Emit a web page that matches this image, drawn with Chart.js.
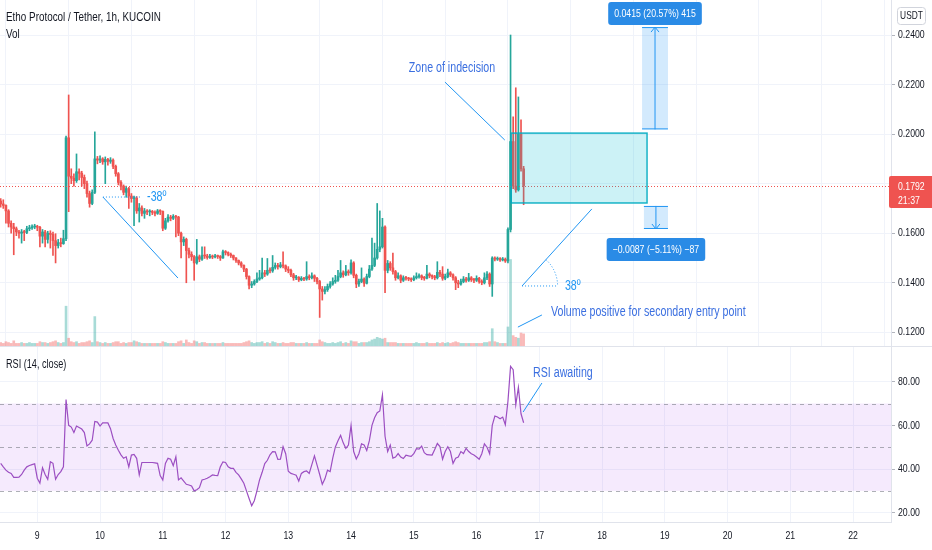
<!DOCTYPE html>
<html>
<head>
<meta charset="utf-8">
<title>ETHO / USDT 1h</title>
<script src="https://cdn.jsdelivr.net/npm/chart.js@4.4.1/dist/chart.umd.min.js"></script>
<style>
    html, body { margin: 0; padding: 0; background: #ffffff; }
    #wrap { position: relative; width: 932px; height: 550px; overflow: hidden; }
    #mainChart { position: absolute; left: 0; top: 0; }
    #rsiChart { position: absolute; left: 0; top: 346px; }
</style>
</head>
<body>
<div id="wrap">
    <canvas id="mainChart" width="932" height="346"></canvas>
    <canvas id="rsiChart" width="932" height="204"></canvas>
</div>
<script>
// 坐标轴刻度
const dayTicks = [9, 10, 11, 12, 13, 14, 15, 16, 17, 18, 19, 20, 21, 22];
const priceTicks = [0.12, 0.14, 0.16, 0.18, 0.20, 0.22, 0.24];
const rsiTicks = [20, 40, 60, 80];
const rsiLevels = [70, 50, 30];

// K线数据（每小时一根，从 8 日 10:00 开始）
const firstHour = 10;
const firstOpen = 0.1730;
const closes = [
    0.1718, 0.1712, 0.1690, 0.1640, 0.1625, 0.1618, 0.1605, 0.1600, 0.1605, 0.1603,
    0.1618, 0.1622, 0.1625, 0.1627, 0.1624, 0.1588, 0.1605, 0.1575, 0.1600, 0.1595,
    0.1570, 0.1550, 0.1562, 0.1558, 0.1578, 0.1985, 0.1830, 0.1822, 0.1812, 0.1848,
    0.1842, 0.1825, 0.1800, 0.1760, 0.1720, 0.1765, 0.1900, 0.1895, 0.1900, 0.1888,
    0.1898, 0.1890, 0.1895, 0.1870, 0.1840, 0.1805, 0.1790, 0.1765, 0.1780, 0.1750,
    0.1740, 0.1742, 0.1690, 0.1702, 0.1680, 0.1690, 0.1686, 0.1688, 0.1684, 0.1680,
    0.1690, 0.1688, 0.1620, 0.1650, 0.1665, 0.1660, 0.1668, 0.1665, 0.1600, 0.1565,
    0.1575, 0.1530, 0.1515, 0.1505, 0.1480, 0.1505, 0.1495, 0.1510, 0.1508, 0.1502,
    0.1507, 0.1504, 0.1508, 0.1506, 0.1500, 0.1525, 0.1522, 0.1515, 0.1510, 0.1500,
    0.1490, 0.1480, 0.1470, 0.1455, 0.1425, 0.1390, 0.1395, 0.1405, 0.1415, 0.1420,
    0.1440, 0.1435, 0.1450, 0.1448, 0.1462, 0.1470, 0.1465, 0.1472, 0.1468, 0.1455,
    0.1450, 0.1432, 0.1420, 0.1422, 0.1412, 0.1418, 0.1415, 0.1425, 0.1420, 0.1428,
    0.1418, 0.1405, 0.1375, 0.1365, 0.1372, 0.1385, 0.1395, 0.1405, 0.1410, 0.1425,
    0.1440, 0.1432, 0.1445, 0.1440, 0.1480, 0.1430, 0.1395, 0.1405, 0.1415, 0.1398,
    0.1425, 0.1455, 0.1470, 0.1500, 0.1535, 0.1545, 0.1625, 0.1450, 0.1478, 0.1460,
    0.1445, 0.1420, 0.1428, 0.1410, 0.1420, 0.1418, 0.1415, 0.1412, 0.1420, 0.1425,
    0.1428, 0.1420, 0.1418, 0.1435, 0.1428, 0.1425, 0.1420, 0.1442, 0.1435, 0.1418,
    0.1425, 0.1440, 0.1432, 0.1420, 0.1400, 0.1395, 0.1405, 0.1415, 0.1410, 0.1420,
    0.1412, 0.1410, 0.1418, 0.1405, 0.1400, 0.1420, 0.1435, 0.1395, 0.1500, 0.1495,
    0.1498, 0.1492, 0.1495, 0.1488, 0.1615, 0.1970, 0.1790, 0.1775, 0.2000, 0.1860, 0.1792
];
const highs = [
    0.1740, 0.1735, 0.1715, 0.1695, 0.1650, 0.1640, 0.1625, 0.1612, 0.1615, 0.1612,
    0.1628, 0.1632, 0.1634, 0.1636, 0.1632, 0.1628, 0.1615, 0.1612, 0.1608, 0.1610,
    0.1605, 0.1598, 0.1575, 0.1580, 0.1612, 0.1992, 0.2158, 0.1860, 0.1840, 0.1920,
    0.1860, 0.1850, 0.1835, 0.1810, 0.1770, 0.1775, 0.2009, 0.1910, 0.1912, 0.1905,
    0.1908, 0.1902, 0.1905, 0.1900, 0.1875, 0.1845, 0.1812, 0.1795, 0.1790, 0.1785,
    0.1760, 0.1750, 0.1748, 0.1720, 0.1710, 0.1700, 0.1695, 0.1695, 0.1692, 0.1690,
    0.1696, 0.1695, 0.1690, 0.1660, 0.1675, 0.1672, 0.1675, 0.1672, 0.1668, 0.1605,
    0.1585, 0.1580, 0.1540, 0.1525, 0.1510, 0.1575, 0.1512, 0.1545, 0.1545, 0.1515,
    0.1515, 0.1512, 0.1515, 0.1512, 0.1510, 0.1532, 0.1530, 0.1525, 0.1520, 0.1512,
    0.1502, 0.1492, 0.1485, 0.1472, 0.1458, 0.1428, 0.1405, 0.1412, 0.1440, 0.1450,
    0.1500, 0.1450, 0.1498, 0.1460, 0.1510, 0.1480, 0.1478, 0.1482, 0.1525, 0.1472,
    0.1465, 0.1455, 0.1438, 0.1430, 0.1425, 0.1425, 0.1422, 0.1485, 0.1432, 0.1440,
    0.1432, 0.1422, 0.1410, 0.1385, 0.1385, 0.1395, 0.1405, 0.1420, 0.1430, 0.1450,
    0.1490, 0.1448, 0.1470, 0.1452, 0.1493, 0.1485, 0.1435, 0.1415, 0.1460, 0.1420,
    0.1435, 0.1470, 0.1580, 0.1560, 0.1720, 0.1690, 0.1660, 0.1630, 0.1490, 0.1485,
    0.1520, 0.1450, 0.1440, 0.1432, 0.1428, 0.1426, 0.1422, 0.1420, 0.1428, 0.1440,
    0.1436, 0.1432, 0.1426, 0.1470, 0.1440, 0.1432, 0.1430, 0.1485, 0.1450, 0.1465,
    0.1435, 0.1455, 0.1445, 0.1436, 0.1425, 0.1410, 0.1415, 0.1425, 0.1422, 0.1438,
    0.1425, 0.1418, 0.1428, 0.1422, 0.1412, 0.1440, 0.1445, 0.1440, 0.1505, 0.1505,
    0.1504, 0.1502, 0.1502, 0.1500, 0.1622, 0.2400, 0.2070, 0.2187, 0.2150, 0.2058, 0.1870
];
const lows = [
    0.1705, 0.1700, 0.1640, 0.1625, 0.1600, 0.1513, 0.1590, 0.1580, 0.1560, 0.1570,
    0.1598, 0.1610, 0.1615, 0.1618, 0.1610, 0.1545, 0.1560, 0.1545, 0.1560, 0.1540,
    0.1510, 0.1480, 0.1540, 0.1545, 0.1555, 0.1570, 0.1687, 0.1800, 0.1790, 0.1805,
    0.1815, 0.1790, 0.1780, 0.1745, 0.1705, 0.1715, 0.1760, 0.1880, 0.1885, 0.1878,
    0.1800, 0.1875, 0.1882, 0.1860, 0.1830, 0.1795, 0.1775, 0.1755, 0.1745, 0.1700,
    0.1725, 0.1630, 0.1680, 0.1645, 0.1670, 0.1660, 0.1675, 0.1670, 0.1675, 0.1670,
    0.1676, 0.1675, 0.1610, 0.1615, 0.1645, 0.1650, 0.1655, 0.1585, 0.1590, 0.1500,
    0.1550, 0.1400, 0.1500, 0.1490, 0.1410, 0.1475, 0.1485, 0.1490, 0.1498, 0.1495,
    0.1498, 0.1497, 0.1500, 0.1498, 0.1490, 0.1498, 0.1512, 0.1508, 0.1502, 0.1492,
    0.1482, 0.1472, 0.1462, 0.1445, 0.1415, 0.1375, 0.1380, 0.1390, 0.1400, 0.1410,
    0.1415, 0.1425, 0.1430, 0.1440, 0.1442, 0.1455, 0.1455, 0.1460, 0.1460, 0.1445,
    0.1440, 0.1425, 0.1410, 0.1412, 0.1405, 0.1408, 0.1408, 0.1410, 0.1412, 0.1415,
    0.1405, 0.1395, 0.1260, 0.1330, 0.1355, 0.1365, 0.1378, 0.1390, 0.1398, 0.1405,
    0.1420, 0.1422, 0.1428, 0.1430, 0.1435, 0.1420, 0.1380, 0.1385, 0.1400, 0.1385,
    0.1395, 0.1420, 0.1450, 0.1465, 0.1495, 0.1525, 0.1540, 0.1360, 0.1440, 0.1450,
    0.1435, 0.1410, 0.1415, 0.1400, 0.1405, 0.1410, 0.1408, 0.1405, 0.1408, 0.1415,
    0.1418, 0.1412, 0.1410, 0.1415, 0.1420, 0.1415, 0.1412, 0.1415, 0.1425, 0.1410,
    0.1412, 0.1420, 0.1425, 0.1410, 0.1372, 0.1380, 0.1390, 0.1400, 0.1402, 0.1405,
    0.1405, 0.1400, 0.1405, 0.1398, 0.1392, 0.1395, 0.1412, 0.1385, 0.1345, 0.1488,
    0.1490, 0.1486, 0.1488, 0.1482, 0.1480, 0.1605, 0.1780, 0.1765, 0.1770, 0.1850, 0.1715
];
const volumes = [
    4, 3, 5, 4, 3, 6, 3, 3, 4, 3,
    3, 4, 3, 3, 3, 5, 4, 4, 3, 4,
    5, 6, 4, 3, 4, 46, 9, 5, 4, 5,
    3, 4, 4, 5, 6, 4, 34, 5, 4, 3,
    4, 3, 3, 4, 5, 5, 3, 4, 3, 4,
    4, 6, 5, 4, 3, 3, 3, 3, 3, 3,
    3, 3, 5, 4, 3, 3, 3, 3, 5, 6,
    3, 7, 4, 3, 6, 5, 3, 4, 4, 3,
    3, 3, 3, 3, 3, 4, 3, 3, 3, 3,
    3, 3, 3, 4, 5, 6, 4, 3, 4, 4,
    5, 3, 4, 3, 5, 4, 3, 3, 4, 3,
    3, 4, 4, 3, 3, 3, 3, 4, 3, 3,
    3, 3, 7, 5, 4, 3, 3, 4, 3, 4,
    5, 3, 4, 3, 6, 5, 5, 3, 4, 4,
    4, 5, 7, 8, 10, 9, 8, 9, 4, 4,
    4, 4, 3, 3, 3, 3, 3, 3, 3, 4,
    3, 3, 3, 4, 3, 3, 3, 4, 3, 4,
    3, 4, 3, 4, 5, 4, 3, 3, 3, 3,
    3, 3, 3, 3, 3, 4, 4, 5, 20, 5,
    4, 3, 3, 3, 22, 100, 12, 10, 9, 15, 14
];
const rsiValues = [
    42.6, 41, 39.5, 38.5, 38, 36.2, 36.2, 36.3, 37.5, 39.5,
    41, 41.6, 42, 42.4, 35.8, 33.5, 40.6, 37.5, 35.3, 43.3,
    42.6, 35.3, 37.5, 38.8, 41, 71.8, 60, 59.2, 56.7, 59.7,
    59, 58.3, 56.7, 50.6, 51.5, 53.2, 61.8, 61.5, 59.7, 61.1,
    61.1, 61.1, 58.5, 54, 51, 48.6, 46.5, 44.9, 45.6, 41,
    46.4, 46.7, 44.9, 37.3, 43, 43, 43, 43, 43, 42.8,
    42.6, 37, 35, 42.6, 44.9, 44.5, 41.5, 45.6, 35, 36,
    34.5, 33, 32.7, 32.2, 30, 30.5, 31.5, 35, 35.3, 35.8,
    36.5, 37.3, 37.1, 37, 41, 43.3, 43, 41, 40.3, 40.3,
    38.5, 37.3, 35.5, 33.5, 30, 26.5, 23.2, 25.5, 30, 35,
    38.5, 42.5, 44, 46.5, 48, 47.9, 44.4, 44.5, 50.2, 47,
    39, 38, 37.6, 37.2, 34.5, 38, 38.8, 39.1, 38, 42,
    46, 41.8, 37.5, 33, 35.5, 39.5, 38.8, 45, 50.1, 53,
    55.4, 52, 49.5, 51, 60, 48, 44.6, 47, 51.5, 51,
    48.5, 53, 60, 63.5, 65.8, 66.6, 74, 55, 48, 51,
    45, 45.5, 47.1, 45.5, 44.8, 46.3, 46, 45.8, 47, 49.3,
    49.1, 50.5, 47.5, 46.6, 46.5, 46.4, 49, 51.7, 50.3, 44.5,
    48, 50.2, 48, 42.6, 45, 45.5, 48, 47.1, 49.5, 48,
    47, 46.4, 45.5, 44.5, 47, 51.5, 50, 47, 60, 64.3,
    63.8, 63, 63.8, 60.3, 71, 87, 85.5, 69.4, 77.4, 65.3, 61.2
];
const lastPrice = 0.1792;
const countdown = '21:37';

// 图上标注（数据坐标：小时, 价格 / RSI）
const slopeDown = { from: [49.1, 0.1746], to: [77.8, 0.1419], guideTo: 63.3, text: '-38º', textAt: [66.0, 0.1746] };
const zoneNote = { text: 'Zone of indecision', at: [182.6, 0.2267], from: [179.9, 0.2210], to: [202.8, 0.1976] };
const zoneBox = { x0: 205.2, x1: 257.2, top: 0.2004, bottom: 0.1722 };
const measureUp = { x0: 255.3, x1: 265.2, from: 0.2019, to: 0.2432, text: '0.0415 (20.57%) 415' };
const measureDown = { x0: 256.0, x1: 265.2, from: 0.1710, to: 0.1617, text: '\u22120.0087 (\u22125.11%) \u221287' };
const slopeUp = { from: [209.4, 0.1387], to: [236.1, 0.1698], guideTo: 223.0, text: '38º', textAt: [225.8, 0.1387] };
const volNote = { text: 'Volume positive for secondary entry point', at: [220.5, 0.1282], from: [207.8, 0.1221], to: [217.0, 0.1270] };
const rsiNote = { text: 'RSI awaiting', at: [213.6, 84], from: [209.8, 66.1], to: [217.0, 79.4] };

// 显示范围与样式
const X_MIN = 9.74, X_MAX = 350.5;
const P_MIN = 0.11447, P_MAX = 0.25413;
const R_MIN = 15.74, R_MAX = 96.35;
const VOL_MAX = 400;
const UP = '#26a69a', DOWN = '#ef5350';
const BLUE = '#2196f3', NOTE = '#3b6fe0';
const TEXT_FONT = '"Liberation Sans", Arial, sans-serif';
const SQUEEZE = 0.76;
const GRID = '#f0f3fa', BORDER = '#e0e3eb', TEXT = '#131722';
const HIDDEN = 'rgba(0,0,0,0)';

const hours = closes.map((c, i) => firstHour + i);
const opens = closes.map((c, i) => i === 0 ? firstOpen : closes[i - 1]);
const isUp = closes.map((c, i) => c >= opens[i]);
const wickHigh = highs.map((h, i) => Math.max(h, opens[i], closes[i]));
const wickLow = lows.map((l, i) => Math.min(l, opens[i], closes[i]));

// 工具函数：压窄字体绘制文字
function drawText(ctx, text, x, y, size, color, align) {
    ctx.save();
    ctx.font = size + 'px ' + TEXT_FONT;
    ctx.fillStyle = color;
    ctx.textBaseline = 'middle';
    ctx.textAlign = align || 'left';
    ctx.translate(x, y);
    ctx.scale(SQUEEZE, 1);
    ctx.fillText(text, 0, 0);
    ctx.restore();
}

function textWidth(ctx, text, size) {
    ctx.save();
    ctx.font = size + 'px ' + TEXT_FONT;
    const w = ctx.measureText(text).width * SQUEEZE;
    ctx.restore();
    return w;
}

function drawLine(ctx, x1, y1, x2, y2, color, dash, width) {
    ctx.save();
    ctx.strokeStyle = color;
    ctx.lineWidth = width || 1;
    ctx.setLineDash(dash || []);
    ctx.beginPath();
    ctx.moveTo(x1, y1);
    ctx.lineTo(x2, y2);
    ctx.stroke();
    ctx.restore();
}

function drawBox(ctx, x, y, w, h, r, fill, stroke) {
    ctx.save();
    ctx.beginPath();
    ctx.roundRect(x, y, w, h, r);
    if (fill) { ctx.fillStyle = fill; ctx.fill(); }
    if (stroke) { ctx.strokeStyle = stroke; ctx.lineWidth = 1; ctx.stroke(); }
    ctx.restore();
}

// 右侧刻度文字（位置取自库的刻度）
function drawAxisLabels(ctx, scale, values, digits) {
    values.forEach(v => {
        drawText(ctx, v.toFixed(digits), scale.left + 7, scale.getPixelForValue(v), 11.5, TEXT);
    });
}

// 测量工具（阴影 + 箭头 + 标签）
function drawMeasure(ctx, px, py, m, labelAbove) {
    const xa = px(m.x0), xb = px(m.x1), xc = (xa + xb) / 2;
    const yFrom = py(m.from), yTo = py(m.to);
    const yTop = Math.min(yFrom, yTo), yBot = Math.max(yFrom, yTo);
    ctx.save();
    ctx.fillStyle = 'rgba(33,150,243,0.2)';
    ctx.fillRect(xa, yTop, xb - xa, yBot - yTop);
    ctx.restore();
    drawLine(ctx, xa, yTop + 0.5, xb, yTop + 0.5, BLUE);
    drawLine(ctx, xa, yBot - 0.5, xb, yBot - 0.5, BLUE);
    drawLine(ctx, xc, yFrom, xc, yTo, BLUE);
    const dir = yTo < yFrom ? 1 : -1;
    drawLine(ctx, xc - 4, yTo + dir * 5, xc, yTo, BLUE);
    drawLine(ctx, xc + 4, yTo + dir * 5, xc, yTo, BLUE);
    const size = 11.5;
    const w = textWidth(ctx, m.text, size) + 12, h = 23;
    const by = labelAbove ? Math.max(2, yTop - 2 - h) : yBot + 9;
    drawBox(ctx, xc - w / 2, by, w, h, 3, '#2a8be6');
    drawText(ctx, m.text, xc, by + h / 2, size, '#ffffff', 'center');
}

// 主图标注插件
const mainNotes = {
    id: 'mainNotes',
    afterDraw(chart) {
        const ctx = chart.ctx, area = chart.chartArea;
        const xs = chart.scales.x, ys = chart.scales.y;
        const px = h => xs.getPixelForValue(h);
        const py = p => ys.getPixelForValue(p);

        ctx.save();
        ctx.beginPath();
        ctx.rect(area.left, area.top, area.right - area.left, area.bottom - area.top);
        ctx.clip();

        // 当前价格虚线
        const yLast = Math.round(py(lastPrice)) + 0.5;
        drawLine(ctx, area.left, yLast, area.right, yLast, DOWN, [1, 2]);

        // 震荡区
        const zx = px(zoneBox.x0), zy = py(zoneBox.top);
        const zw = px(zoneBox.x1) - zx, zh = py(zoneBox.bottom) - zy;
        ctx.save();
        ctx.fillStyle = 'rgba(0,188,212,0.2)';
        ctx.fillRect(zx, zy, zw, zh);
        ctx.strokeStyle = 'rgba(0,172,193,0.9)';
        ctx.lineWidth = 1.5;
        ctx.strokeRect(zx, zy, zw, zh);
        ctx.restore();

        drawMeasure(ctx, px, py, measureUp, true);
        drawMeasure(ctx, px, py, measureDown, false);

        // 角度线
        [slopeDown, slopeUp].forEach(s => {
            const x1 = px(s.from[0]), y1 = py(s.from[1]);
            const x2 = px(s.to[0]), y2 = py(s.to[1]);
            drawLine(ctx, x1, y1, x2, y2, BLUE);
            drawLine(ctx, x1, y1, px(s.guideTo), y1, BLUE, [1, 2]);
            drawText(ctx, s.text, px(s.textAt[0]), py(s.textAt[1]), 14, BLUE);
        });
        // 38º 的角度弧
        const ax = px(slopeUp.from[0]), ay = py(slopeUp.from[1]);
        const ang = Math.atan2(py(slopeUp.to[1]) - ay, px(slopeUp.to[0]) - ax);
        ctx.save();
        ctx.strokeStyle = BLUE;
        ctx.setLineDash([1, 2]);
        ctx.beginPath();
        ctx.arc(ax, ay, px(slopeUp.guideTo) - ax, ang, 0);
        ctx.stroke();
        ctx.restore();

        // 文字标注
        [zoneNote, volNote].forEach(n => {
            drawLine(ctx, px(n.from[0]), py(n.from[1]), px(n.to[0]), py(n.to[1]), BLUE);
        });
        drawText(ctx, zoneNote.text, px(zoneNote.at[0]), py(zoneNote.at[1]), 14, NOTE, 'center');
        drawText(ctx, volNote.text, px(volNote.at[0]), py(volNote.at[1]), 14, NOTE);
        ctx.restore();

        // 标题
        drawText(ctx, 'Etho Protocol / Tether, 1h, KUCOIN', 6, 17, 13, TEXT);
        drawText(ctx, 'Vol', 6, 34, 13, TEXT);

        // 价格刻度
        drawAxisLabels(ctx, ys, priceTicks, 4);

        // USDT
        drawBox(ctx, 897.5, 7.5, 28, 17, 3, '#ffffff', '#d1d4dc');
        drawText(ctx, 'USDT', 911.5, 16, 11, TEXT, 'center');

        // 当前价格标签
        drawBox(ctx, 889, yLast - 10.5, 50, 32, 2, DOWN);
        drawText(ctx, lastPrice.toFixed(4), 898, yLast, 11.5, '#ffffff');
        drawText(ctx, countdown, 898, yLast + 14, 11.5, '#ffffff');
    }
};

new Chart(document.getElementById('mainChart'), {
    type: 'bar',
    data: {
        datasets: [
            {
                label: 'body',
                data: hours.map((h, i) => ({ x: h, y: [opens[i], closes[i]] })),
                backgroundColor: isUp.map(u => u ? UP : DOWN),
                barThickness: 2,
                minBarLength: 1,
                grouped: false,
                order: 1,
                yAxisID: 'y'
            },
            {
                label: 'wick',
                data: hours.map((h, i) => ({ x: h, y: [wickLow[i], wickHigh[i]] })),
                backgroundColor: isUp.map(u => u ? UP : DOWN),
                barThickness: 1,
                grouped: false,
                order: 2,
                yAxisID: 'y'
            },
            {
                label: 'vol',
                data: hours.map((h, i) => ({ x: h, y: volumes[i] })),
                backgroundColor: isUp.map(u => u ? 'rgba(38,166,154,0.4)' : 'rgba(239,83,80,0.4)'),
                barThickness: 2,
                grouped: false,
                order: 3,
                yAxisID: 'yVol'
            }
        ]
    },
    options: {
        responsive: false,
        animation: false,
        events: [],
        layout: { padding: 0 },
        plugins: { legend: { display: false }, tooltip: { enabled: false } },
        scales: {
            x: {
                type: 'linear',
                min: X_MIN,
                max: X_MAX,
                offset: false,
                afterBuildTicks: s => { s.ticks = dayTicks.map(d => ({ value: (d - 8) * 24 })); },
                ticks: { display: false },
                grid: { color: GRID, drawTicks: false },
                border: { display: false },
                afterFit: s => { s.height = 0; s.paddingLeft = 0; s.paddingRight = 0; }
            },
            y: {
                position: 'right',
                min: P_MIN,
                max: P_MAX,
                afterBuildTicks: s => { s.ticks = priceTicks.map(v => ({ value: v })); },
                ticks: { callback: v => Number(v).toFixed(4), color: HIDDEN, padding: 3, font: { size: 11 } },
                grid: { color: GRID, tickColor: '#b2b5be', tickLength: 4 },
                border: { color: BORDER },
                afterFit: s => { s.width = 41; s.paddingTop = 0; s.paddingBottom = 0; }
            },
            yVol: { display: false, min: 0, max: VOL_MAX }
        }
    },
    plugins: [mainNotes]
});

// RSI 区域插件
const rsiNotes = {
    id: 'rsiNotes',
    beforeDatasetsDraw(chart) {
        const ctx = chart.ctx, area = chart.chartArea, ys = chart.scales.y;
        const yHi = ys.getPixelForValue(rsiLevels[0]);
        const yLo = ys.getPixelForValue(rsiLevels[rsiLevels.length - 1]);
        ctx.save();
        ctx.fillStyle = 'rgba(170,80,235,0.12)';
        ctx.fillRect(area.left, yHi, area.right - area.left, yLo - yHi);
        ctx.restore();
        rsiLevels.forEach(v => {
            const y = Math.round(ys.getPixelForValue(v)) + 0.5;
            drawLine(ctx, area.left, y, area.right, y, 'rgba(120,123,134,0.6)', [4, 4]);
        });
    },
    afterDraw(chart) {
        const ctx = chart.ctx, xs = chart.scales.x, ys = chart.scales.y, area = chart.chartArea;
        const px = h => xs.getPixelForValue(h);
        const py = v => ys.getPixelForValue(v);
        drawLine(ctx, 0, 0.5, 932, 0.5, BORDER);
        drawText(ctx, 'RSI (14, close)', 6, 19, 12, TEXT);
        drawLine(ctx, px(rsiNote.from[0]), py(rsiNote.from[1]), px(rsiNote.to[0]), py(rsiNote.to[1]), BLUE);
        drawText(ctx, rsiNote.text, px(rsiNote.at[0]), py(rsiNote.at[1]), 14, NOTE);
        drawAxisLabels(ctx, ys, rsiTicks, 2);
        // 日期刻度文字
        dayTicks.forEach(d => {
            drawText(ctx, String(d), px((d - 8) * 24), area.bottom + 14, 11.5, TEXT, 'center');
        });
    }
};

new Chart(document.getElementById('rsiChart'), {
    type: 'line',
    data: {
        datasets: [{
            label: 'RSI',
            data: hours.map((h, i) => ({ x: h, y: rsiValues[i] })),
            borderColor: '#9c4fc2',
            borderWidth: 1.2,
            pointRadius: 0,
            tension: 0
        }]
    },
    options: {
        responsive: false,
        animation: false,
        events: [],
        layout: { padding: 0 },
        plugins: { legend: { display: false }, tooltip: { enabled: false } },
        scales: {
            x: {
                type: 'linear',
                min: X_MIN,
                max: X_MAX,
                afterBuildTicks: s => { s.ticks = dayTicks.map(d => ({ value: (d - 8) * 24 })); },
                ticks: {
                    autoSkip: false,
                    maxRotation: 0,
                    padding: 7,
                    color: HIDDEN,
                    font: { size: 11 },
                    callback: (v, i) => String(dayTicks[i])
                },
                grid: { color: GRID, drawTicks: false },
                border: { color: BORDER },
                afterFit: s => { s.height = 28; s.paddingLeft = 0; s.paddingRight = 0; }
            },
            y: {
                position: 'right',
                min: R_MIN,
                max: R_MAX,
                afterBuildTicks: s => { s.ticks = rsiTicks.map(v => ({ value: v })); },
                ticks: { callback: v => Number(v).toFixed(2), color: HIDDEN, padding: 3, font: { size: 11 } },
                grid: { color: GRID, tickColor: '#b2b5be', tickLength: 4 },
                border: { color: BORDER },
                afterFit: s => { s.width = 41; s.paddingTop = 0; s.paddingBottom = 0; }
            }
        }
    },
    plugins: [rsiNotes]
});
</script>
</body>
</html>
